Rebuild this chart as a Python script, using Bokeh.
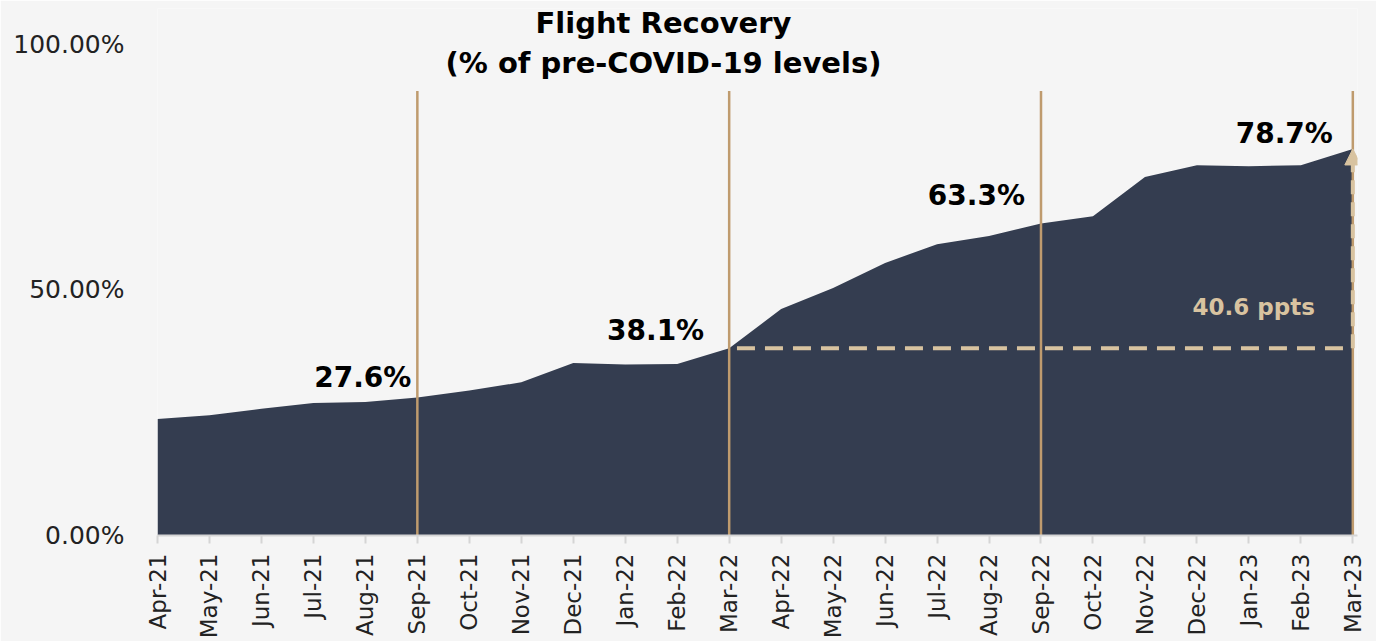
from bokeh.plotting import figure
from bokeh.models import (Range1d, FixedTicker, PrintfTickFormatter, Label, Arrow,
                          NormalHead)
from bokeh.core.properties import value
from bokeh.embed import file_html
from bokeh.resources import INLINE
import math

months = ["Apr-21", "May-21", "Jun-21", "Jul-21", "Aug-21", "Sep-21", "Oct-21", "Nov-21",
          "Dec-21", "Jan-22", "Feb-22", "Mar-22", "Apr-22", "May-22", "Jun-22", "Jul-22",
          "Aug-22", "Sep-22", "Oct-22", "Nov-22", "Dec-22", "Jan-23", "Feb-23", "Mar-23"]
recovery = [23.7, 24.5, 25.8, 27.0, 27.2, 28.1, 29.5, 31.2, 35.1, 34.8, 34.9, 38.1,
            46.1, 50.4, 55.5, 59.3, 61.0, 63.5, 65.0, 73.0, 75.4, 75.2, 75.4, 78.7]
marker_months = ["Sep-21", "Mar-22", "Sep-22", "Mar-23"]
marker_labels = ["27.6%", "38.1%", "63.3%", "78.7%"]
y_ticks = [0, 50, 100]
gain_text = "40.6 ppts"
title_lines = ["Flight Recovery", "(% of pre-COVID-19 levels)"]

idx = list(range(len(months)))
m_idx = [months.index(m) for m in marker_months]
m_val = [recovery[i] for i in m_idx]

BG = "#F5F5F5"
NAVY = "#343D50"
GOLD = "#BF9B6E"
TAN = "#D8C3A0"
FONT = "DejaVu Sans"

p = figure(frame_width=1200, frame_height=527, output_backend="svg", toolbar_location=None,
           x_range=Range1d(0, 23.09), y_range=Range1d(0, 107.3),
           min_border_left=157, min_border_right=19, min_border_top=8, min_border_bottom=100,
           background_fill_color=BG, border_fill_color=BG, outline_line_color=None)
p.grid.visible = False

p.varea(x=idx, y1=0, y2=recovery, fill_color=NAVY)

# vertical markers
p.segment(x0=m_idx, y0=[0] * len(m_idx), x1=m_idx, y1=[90.5] * len(m_idx),
          line_color=GOLD, line_width=2.5)

# dashed baseline from Mar-22 level to Mar-23
i0, i1 = m_idx[1], m_idx[3]
p.segment(x0=[i0 + 0.15], y0=[recovery[i0]], x1=[i1], y1=[recovery[i0]],
          line_color=TAN, line_width=4, line_dash="18 10")
p.add_layout(Arrow(x_start=i1, y_start=recovery[i0], x_end=i1, y_end=recovery[i1],
                   line_color=TAN, line_width=4, line_dash="14 8",
                   end=NormalHead(size=16, fill_color=TAN, line_color=TAN)))

p.text(x=m_idx, y=m_val, text=marker_labels, text_align="right", text_baseline="bottom",
       x_offset=[-6, -25, -16, -20], y_offset=[-3, -1, -12, 1],
       text_font=value(FONT), text_font_style="bold",
       text_font_size="28px", text_color="#000000")

p.add_layout(Label(x=i1, y=recovery[i0], text=gain_text, text_align="right",
                   text_baseline="bottom", x_offset=-38, y_offset=28,
                   text_font=FONT, text_font_style="bold", text_font_size="23px",
                   text_color=TAN))

for k, t in enumerate(title_lines):
    p.add_layout(Label(x=506, y=513 - 40 * k, x_units="screen", y_units="screen", text=t,
                       text_align="center", text_baseline="middle", text_font=FONT,
                       text_font_style="bold", text_font_size="29px", text_color="#000000"))

# axes
p.yaxis.ticker = FixedTicker(ticks=y_ticks)
p.yaxis.formatter = PrintfTickFormatter(format="%.2f%%")
p.yaxis.axis_line_color = None
p.yaxis.major_tick_line_color = None
p.yaxis.minor_tick_line_color = None
p.yaxis.major_label_standoff = 27
p.yaxis.major_label_text_font = FONT
p.yaxis.major_label_text_font_size = "25px"
p.yaxis.major_label_text_color = "#222222"

p.xaxis.ticker = FixedTicker(ticks=idx)
p.xaxis.major_label_overrides = {i: m for i, m in zip(idx, months)}
p.xaxis.major_label_orientation = math.pi / 2
p.xaxis.axis_line_color = "#D5D5D5"
p.xaxis.axis_line_width = 2
p.xaxis.major_tick_line_color = "#D5D5D5"
p.xaxis.major_tick_line_width = 2
p.xaxis.major_tick_in = 0
p.xaxis.major_tick_out = 8
p.xaxis.minor_tick_line_color = None
p.xaxis.major_label_standoff = 10
p.xaxis.major_label_text_font = FONT
p.xaxis.major_label_text_font_size = "23px"
p.xaxis.major_label_text_color = "#222222"

open("out.html", "w").write(file_html(p, INLINE))
